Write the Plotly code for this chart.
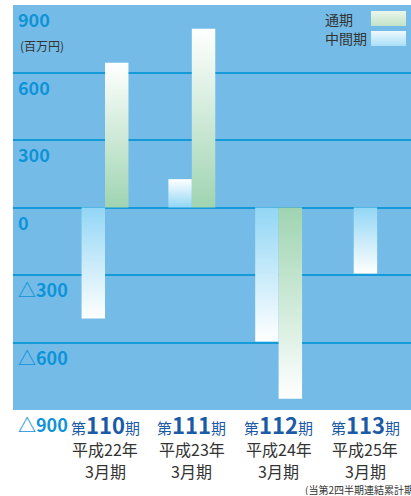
import plotly.graph_objects as go

# ---- data ----
periods = ["110", "111", "112", "113"]
period_years = ["平成22年", "平成23年", "平成24年", "平成25年"]
period_month = ["3月期", "3月期", "3月期", "3月期"]
annual = [643, 794, -850, None]        # 通期
interim = [-493, 126, -596, -293]      # 中間期
y_ticks = [900, 600, 300, 0, -300, -600, -900]
y_tick_labels = ["900", "600", "300", "0", "△300", "△600", "△900"]

FONT = "Noto Sans CJK JP"
BG = "#74bce7"
GRID = "#139ad9"
TICK_COLOR = "#0f93d8"
CAT_COLOR = "#1b5aa6"
TEXT = "#333333"
GREEN = "#9fd4b1"
BLUE = "#92d6f5"
W = 0.27

# plot area in pixels (for converting decoration positions to paper coords)
PL, PR, PT, PB = 13, 411, 5, 410
def px(x):
    return (x - PL) / (PR - PL)
def py(y):
    return (PB - y) / (PB - PT)

fig = go.Figure()

def bar_trace(x0, x1, v, color, name):
    if v is None:
        return
    if v >= 0:
        cs = [[0, color], [1, "#ffffff"]]
    else:
        cs = [[0, "#ffffff"], [1, color]]
    fig.add_trace(go.Scatter(
        x=[x0, x1, x1, x0, x0], y=[0, 0, v, v, 0],
        mode="none", fill="toself",
        fillgradient=dict(type="vertical", colorscale=cs),
        name=name, showlegend=False, hoverinfo="skip",
    ))

for i in range(len(periods)):
    a = annual[i]
    m = interim[i]
    if a is None:
        bar_trace(i - W / 2, i + W / 2, m, BLUE, "中間期")
    else:
        bar_trace(i - W, i, m, BLUE, "中間期")
        bar_trace(i, i + W, a, GREEN, "通期")

# legend swatches on an overlay axis (paper-like coordinates)
def swatch(top, bottom, color, light):
    x0, x1 = px(371), px(406)
    y0, y1 = py(bottom), py(top)
    fig.add_trace(go.Scatter(
        x=[x0, x1, x1, x0, x0], y=[y1, y1, y0, y0, y1],
        mode="none", fill="toself",
        fillgradient=dict(type="vertical", colorscale=[[0, color], [1, light]]),
        xaxis="x2", yaxis="y2", showlegend=False, hoverinfo="skip",
    ))

swatch(11, 26, "#c2e3c7", "#eaf6ea")
swatch(31, 46, "#a9def7", "#eef9fd")

fig.update_layout(
    width=411, height=496,
    margin=dict(l=PL, r=411 - PR, t=PT, b=496 - PB),
    paper_bgcolor="white", plot_bgcolor=BG,
    font=dict(family=FONT, color=TEXT, size=15),
    xaxis=dict(range=[-1.06, 3.525], showticklabels=False, showgrid=False,
               zeroline=False, showline=False, ticks="", fixedrange=True),
    yaxis=dict(range=[-900, 900], tickvals=[600, 300, 0, -300, -600],
               showticklabels=False, showgrid=True, gridcolor=GRID, gridwidth=2,
               zeroline=True, zerolinecolor=GRID, zerolinewidth=2, fixedrange=True),
    xaxis2=dict(range=[0, 1], overlaying="x", visible=False, fixedrange=True),
    yaxis2=dict(range=[0, 1], overlaying="y", visible=False, fixedrange=True),
    showlegend=False,
)

for v, t in zip(y_ticks, y_tick_labels):
    fig.add_annotation(
        x=0, xref="paper", y=v, yref="y", text=f"<b>{t}</b>", showarrow=False,
        xanchor="left", yanchor="top", xshift=3, yshift=1,
        font=dict(size=18, color=TICK_COLOR, family=FONT),
    )

# category labels
for i, (p, yr, mo) in enumerate(zip(periods, period_years, period_month)):
    fig.add_annotation(
        x=i, xref="x", y=py(424), yref="paper", showarrow=False,
        text=f"第<b><span style='font-size:22px'>{p}</span></b>期",
        xanchor="center", yanchor="middle", height=24, borderpad=0,
        font=dict(size=15, color=CAT_COLOR),
    )
    fig.add_annotation(x=i, xref="x", y=py(449), yref="paper", showarrow=False,
                       text=yr, xanchor="center", yanchor="middle",
                       height=20, borderpad=0, font=dict(size=16, color=TEXT))
    fig.add_annotation(x=i, xref="x", y=py(470.5), yref="paper", showarrow=False,
                       text=mo, xanchor="center", yanchor="middle",
                       height=19, borderpad=0, font=dict(size=16, color=TEXT))

fig.add_annotation(x=px(18), xref="paper", y=py(46), yref="paper", text="(百万円)",
                   showarrow=False, xanchor="left", yanchor="middle",
                   font=dict(size=12, color=TEXT))

fig.add_annotation(x=px(323), xref="paper", y=py(19), yref="paper", text="通期",
                   showarrow=False, xanchor="left", yanchor="middle",
                   font=dict(size=14, color=TEXT))
fig.add_annotation(x=px(323), xref="paper", y=py(38), yref="paper", text="中間期",
                   showarrow=False, xanchor="left", yanchor="middle",
                   font=dict(size=14, color=TEXT))

fig.add_annotation(x=px(304), xref="paper", y=py(489), yref="paper",
                   text="(当第2四半期連結累計期間)", showarrow=False,
                   xanchor="left", yanchor="middle", height=12, borderpad=0,
                   font=dict(size=10, color=TEXT))

fig.write_html("out.html", post_script="document.body.style.margin='0';",
               config={"displayModeBar": False})
